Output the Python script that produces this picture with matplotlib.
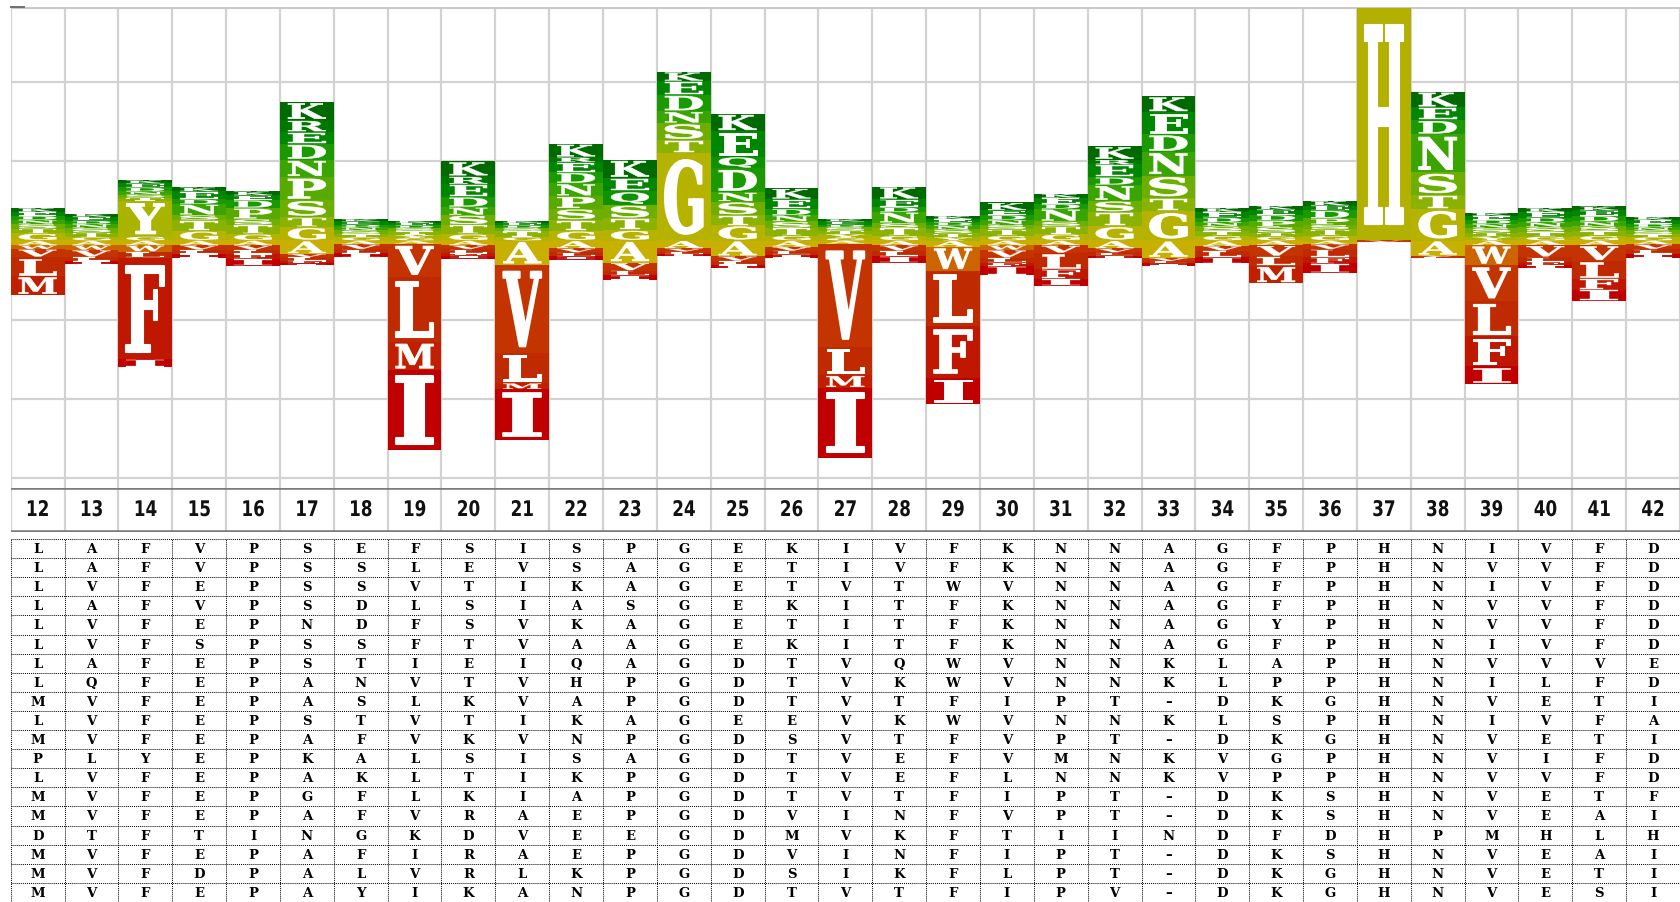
import matplotlib
matplotlib.use('Agg')
import matplotlib.pyplot as plt
from matplotlib.patheffects import AbstractPathEffect
from matplotlib.transforms import Affine2D
from matplotlib.patches import Rectangle
from matplotlib.lines import Line2D

positions = list(range(12, 43))

# letters above the zero line, listed from the top of the stack down
above = [
    [('K', .05), ('E', .05), ('D', .05), ('N', .05), ('S', .06), ('T', .06), ('G', .09)],
    [('K', .04), ('E', .05), ('D', .04), ('N', .05), ('S', .06), ('T', .06), ('G', .04)],
    [('K', .04), ('E', .05), ('D', .05), ('N', .04), ('S', .04), ('T', .04), ('Y', .45), ('G', .05)],
    [('K', .05), ('E', .10), ('D', .06), ('N', .14), ('S', .06), ('T', .14), ('G', .12)],
    [('K', .05), ('E', .06), ('D', .10), ('P', .14), ('S', .07), ('T', .12), ('G', .08)],
    [('K', .23), ('R', .15), ('E', .15), ('D', .20), ('N', .22), ('P', .29), ('S', .21), ('T', .13), ('G', .17)],
    [('K', .03), ('E', .04), ('D', .03), ('N', .04), ('S', .05), ('T', .04), ('G', .04)],
    [('K', .03), ('E', .03), ('D', .03), ('S', .04), ('T', .05), ('Y', .04), ('G', .03)],
    [('K', .19), ('R', .10), ('E', .16), ('D', .13), ('N', .10), ('S', .12), ('T', .12), ('G', .08)],
    [('K', .03), ('E', .03), ('D', .03), ('S', .04), ('T', .08), ('G', .04)],
    [('K', .17), ('R', .06), ('E', .13), ('D', .14), ('N', .16), ('P', .16), ('S', .14), ('T', .14), ('G', .12)],
    [('K', .23), ('E', .17), ('Q', .17), ('S', .17), ('T', .15), ('G', .13)],
    [('K', .12), ('E', .17), ('D', .21), ('N', .15), ('S', .21), ('T', .17), ('G', 1.10)],
    [('K', .22), ('E', .32), ('Q', .15), ('D', .30), ('N', .12), ('S', .17), ('T', .13), ('G', .19)],
    [('K', .14), ('E', .12), ('D', .08), ('N', .08), ('S', .08), ('T', .10), ('G', .06)],
    [('K', .03), ('E', .04), ('D', .03), ('S', .05), ('T', .04), ('Y', .05), ('G', .03)],
    [('K', .16), ('E', .10), ('D', .06), ('N', .14), ('S', .06), ('T', .10), ('G', .06)],
    [('K', .04), ('E', .04), ('D', .04), ('N', .05), ('S', .05), ('T', .05), ('Y', .04)],
    [('K', .10), ('E', .06), ('D', .06), ('N', .06), ('S', .06), ('T', .08), ('G', .06)],
    [('K', .05), ('E', .08), ('D', .06), ('N', .16), ('S', .06), ('T', .10), ('G', .08)],
    [('K', .17), ('R', .06), ('E', .16), ('D', .10), ('N', .20), ('S', .14), ('T', .18), ('G', .18)],
    [('K', .20), ('E', .28), ('D', .22), ('N', .30), ('S', .28), ('T', .17), ('G', .37)],
    [('K', .05), ('E', .07), ('D', .06), ('N', .05), ('S', .06), ('T', .06), ('G', .06)],
    [('K', .05), ('E', .07), ('D', .07), ('P', .08), ('S', .07), ('T', .05), ('G', .05)],
    [('K', .06), ('E', .06), ('D', .10), ('P', .08), ('S', .06), ('T', .08), ('G', .06)],
    [('H', 2.93)],
    [('K', .20), ('E', .16), ('D', .18), ('N', .48), ('S', .28), ('T', .18), ('G', .40)],
    [('K', .04), ('E', .05), ('D', .05), ('N', .05), ('S', .06), ('T', .05), ('Y', .05)],
    [('K', .05), ('E', .07), ('D', .06), ('N', .06), ('S', .06), ('T', .06), ('G', .05)],
    [('K', .05), ('E', .07), ('D', .07), ('N', .06), ('S', .06), ('T', .06), ('G', .06)],
    [('K', .04), ('E', .05), ('D', .04), ('N', .04), ('S', .05), ('T', .04), ('G', .04)],
]

# letters below the zero line, listed from the zero line down
below = [
    [('A', .06), ('W', .05), ('V', .10), ('L', .24), ('M', .24)],
    [('A', .06), ('W', .06), ('V', .09), ('L', .05), ('I', .04)],
    [('A', .06), ('W', .08), ('L', .08), ('F', 1.28), ('I', .10)],
    [('A', .06), ('V', .06), ('L', .05), ('I', .05)],
    [('A', .06), ('V', .06), ('L', .05), ('F', .06), ('I', .09)],
    [('A', .17), ('V', .04), ('L', .05), ('F', .03), ('I', .02)],
    [('A', .05), ('V', .06), ('L', .05), ('I', .05)],
    [('A', .04), ('V', .42), ('L', .82), ('M', .36), ('I', 1.00)],
    [('A', .06), ('V', .05), ('L', .05), ('F', .03), ('I', .04)],
    [('A', .31), ('V', 1.11), ('L', .38), ('M', .08), ('I', .64)],
    [('A', .10), ('V', .05), ('L', .05), ('I', .04)],
    [('A', .28), ('V', .10), ('L', .06), ('I', .06)],
    [('A', .10), ('V', .04), ('L', .03), ('I', .03)],
    [('A', .20), ('V', .06), ('L', .05), ('I', .04)],
    [('A', .08), ('V', .05), ('L', .05), ('I', .04)],
    [('A', .04), ('V', 1.30), ('L', .36), ('M', .16), ('I', .88)],
    [('A', .06), ('V', .07), ('L', .07), ('I', .08)],
    [('A', .08), ('W', .30), ('L', .70), ('F', .65), ('I', .34)],
    [('A', .06), ('W', .06), ('V', .10), ('L', .06), ('F', .04), ('I', .12)],
    [('A', .06), ('V', .10), ('L', .20), ('F', .12), ('I', .09)],
    [('A', .10), ('V', .05), ('L', .04), ('I', .03)],
    [('A', .22), ('V', .04), ('L', .03), ('I', .03)],
    [('A', .07), ('V', .06), ('L', .08), ('I', .08)],
    [('A', .06), ('V', .14), ('L', .12), ('M', .22)],
    [('A', .05), ('V', .06), ('L', .10), ('F', .08), ('I', .12)],
    [('V', .02)],
    [('A', .19), ('V', .02), ('L', .01)],
    [('A', .06), ('W', .25), ('V', .45), ('L', .45), ('F', .38), ('I', .22)],
    [('A', .06), ('V', .15), ('L', .06), ('F', .04), ('I', .04)],
    [('A', .06), ('V', .20), ('L', .22), ('F', .14), ('I', .14)],
    [('A', .05), ('V', .06), ('L', .06), ('I', .05)],
]

alignment = [
    "LAFVPSEFSISPGEKIVFKNNAGFPHNIVFD",
    "LAFVPSSLEVSAGETIVFKNNAGFPHNVVFD",
    "LVFEPSSVTIKAGETVTWVNNAGFPHNIVFD",
    "LAFVPSDLSIASGEKITFKNNAGFPHNVVFD",
    "LVFEPNDFSVKAGETITFKNNAGYPHNVVFD",
    "LVFSPSSFTVAAGEKITFKNNAGFPHNIVFD",
    "LAFEPSTIEIQAGDTVQWVNNKLAPHNVVVE",
    "LQFEPANVTVHPGDTVKWVNNKLPPHNILFD",
    "MVFEPASLKVAPGDTVTFIPT-DKGHNVETI",
    "LVFEPSTVTIKAGEEVKWVNNKLSPHNIVFA",
    "MVFEPAFVKVNPGDSVTFVPT-DKGHNVETI",
    "PLYEPKALSISAGDTVEFVMNKVGPHNVIFD",
    "LVFEPAKLTIKPGDTVEFLNNKVPPHNVVFD",
    "MVFEPGFLKIAPGDTVTFIPT-DKSHNVETF",
    "MVFEPAFVRAEPGDVINFVPT-DKSHNVEAI",
    "DTFTINGKDVEEGDMVKFTIINDFDHPMHLH",
    "MVFEPAFIRAEPGDVINFIPT-DKSHNVEAI",
    "MVFDPALVRLKPGDSIKFLPT-DKGHNVETI",
    "MVFEPAYIKANPGDTVTFIPV-DKGHNVESI",
]

letter_colors = {
    'K': '#006a00', 'R': '#007800', 'E': '#008600', 'Q': '#0e9200',
    'D': '#1a9a00', 'N': '#3aa400', 'P': '#58aa00', 'S': '#6eae00',
    'T': '#8ab200', 'Y': '#a8b400', 'G': '#b6b200', 'H': '#b4b000',
    'A': '#c8b000', 'W': '#cc6400', 'C': '#c84800', 'V': '#c43400',
    'L': '#c02a00', 'M': '#c02000', 'F': '#c01800', 'I': '#c00000',
}

W, H = 1680, 902
x_left = 10.7
y_zero, unit = 240.5, 79.2


class FitToBox(AbstractPathEffect):
    """Stretch the glyph outline so it fills a box given in data units,
    with an outline stroke of the same colour to thicken it."""

    def __init__(self, ax, box, stroke=0.0):
        super().__init__()
        self.ax = ax
        self.box = box
        self.stroke = stroke

    def draw_path(self, renderer, gc, tpath, affine, rgbFace=None):
        bb = tpath.get_extents(affine)
        x0, y0, x1, y1 = self.box
        (dx0, dy0), (dx1, dy1) = self.ax.transData.transform([(x0, y0), (x1, y1)])
        if bb.width <= 0 or bb.height <= 0:
            return
        fit = (Affine2D().translate(-bb.x0, -bb.y0)
               .scale((dx1 - dx0) / bb.width, (dy1 - dy0) / bb.height)
               .translate(dx0, dy0))
        gc0 = renderer.new_gc()
        gc0.copy_properties(gc)
        gc0.set_foreground(rgbFace)
        gc0.set_linewidth(self.stroke)
        gc0.set_joinstyle('round')
        renderer.draw_path(gc0, tpath, affine + fit, rgbFace)
        gc0.restore()


class Squeeze(AbstractPathEffect):
    """Narrow a glyph run around its own centre."""

    def __init__(self, sx):
        super().__init__()
        self.sx = sx

    def draw_path(self, renderer, gc, tpath, affine, rgbFace=None):
        bb = tpath.get_extents(affine)
        cx = 0.5 * (bb.x0 + bb.x1)
        narrow = Affine2D().translate(-cx, 0).scale(self.sx, 1).translate(cx, 0)
        renderer.draw_path(gc, tpath, affine + narrow, rgbFace)


fig = plt.figure(figsize=(W / 100, H / 100), dpi=100)
fig.patch.set_facecolor('white')


def frac_axes(top_px, bottom_px):
    return fig.add_axes([x_left / W, 1 - bottom_px / H, (W - x_left) / W,
                         (bottom_px - top_px) / H])


xmin, xmax = positions[0] - 0.5, positions[-1] + 0.5
grid_col = '#d2d2d2'

# --- logo ---
ax = frac_axes(6.7, 488)
ax.set_xlim(xmin, xmax)
ax.set_ylim((y_zero - 488) / unit, (y_zero - 6.7) / unit)
ax.axis('off')
for b in range(len(positions) + 1):
    ax.axvline(xmin + b, color=grid_col, lw=1.6, zorder=0)
for g in [2, 1, 0, -1, -2, -3]:
    ax.axhline(g, color=grid_col, lw=1.6, zorder=0)
ax.axhline((y_zero - 6.7) / unit, color='#c8c8c8', lw=2.2, zorder=0)
fig.add_artist(Line2D([x_left / W, 24 / W], [1 - 6.7 / H] * 2, color='#6e6e6e', lw=1.4))


def draw_letter(pos, letter, y0, h):
    ax.add_patch(Rectangle((pos - 0.5, y0), 1.0, h, facecolor=letter_colors[letter],
                           edgecolor='none', zorder=2))
    px = h * unit
    stroke = min(1.5, px / 40)
    pad = 0.07 * h + stroke / 1.389 / 2 / unit
    box = (pos - 0.35, y0 + pad, pos + 0.35, y0 + h - pad)
    # font size only sets the unstretched text extent; the glyph is refitted
    size = max(0.5, min(px * 0.5 / 1.389, 26))
    ax.text(pos, y0 + h / 2, letter, color='white', fontsize=size,
            family='DejaVu Serif', weight='bold', ha='center', va='center',
            zorder=3, path_effects=[FitToBox(ax, box, stroke)])


for pos, up, down in zip(positions, above, below):
    top = sum(h for _, h in up)
    for letter, h in up:
        top -= h
        draw_letter(pos, letter, top, h)
    y = 0.0
    for letter, h in down:
        y -= h
        draw_letter(pos, letter, y, h)

# --- position numbers ---
axn = frac_axes(488, 532)
axn.set_xlim(xmin, xmax)
axn.set_ylim(0, 1)
axn.axis('off')
for b in range(len(positions) + 1):
    axn.axvline(xmin + b, color=grid_col, lw=1.6)
axn.axhline(1, color='#7c7c7c', lw=2.6)
axn.axhline(0, color='#7c7c7c', lw=2.6)
for pos in positions:
    axn.text(pos, 0.5, str(pos), fontsize=15.5, weight='bold', family='DejaVu Sans',
             ha='center', va='center', color='#111111', path_effects=[Squeeze(0.78)])

# --- aligned sequences ---
axt = frac_axes(539, 902)
axt.set_xlim(xmin, xmax)
axt.set_ylim(len(alignment), 0)
axt.axis('off')
dots = (0, (1, 1))
for r in range(len(alignment) + 1):
    axt.axhline(r, color='black', lw=0.7, linestyle=dots)
for b in range(len(positions) + 1):
    axt.axvline(xmin + b, color='black', lw=0.7, linestyle=dots)
for r, seq in enumerate(alignment):
    for pos, ch in zip(positions, seq):
        axt.text(pos, r + 0.55, '–' if ch == '-' else ch, fontsize=9.5,
                 family='DejaVu Serif', weight='bold', ha='center', va='center',
                 color='black')

fig.savefig('out.png', dpi=100, facecolor='white')
